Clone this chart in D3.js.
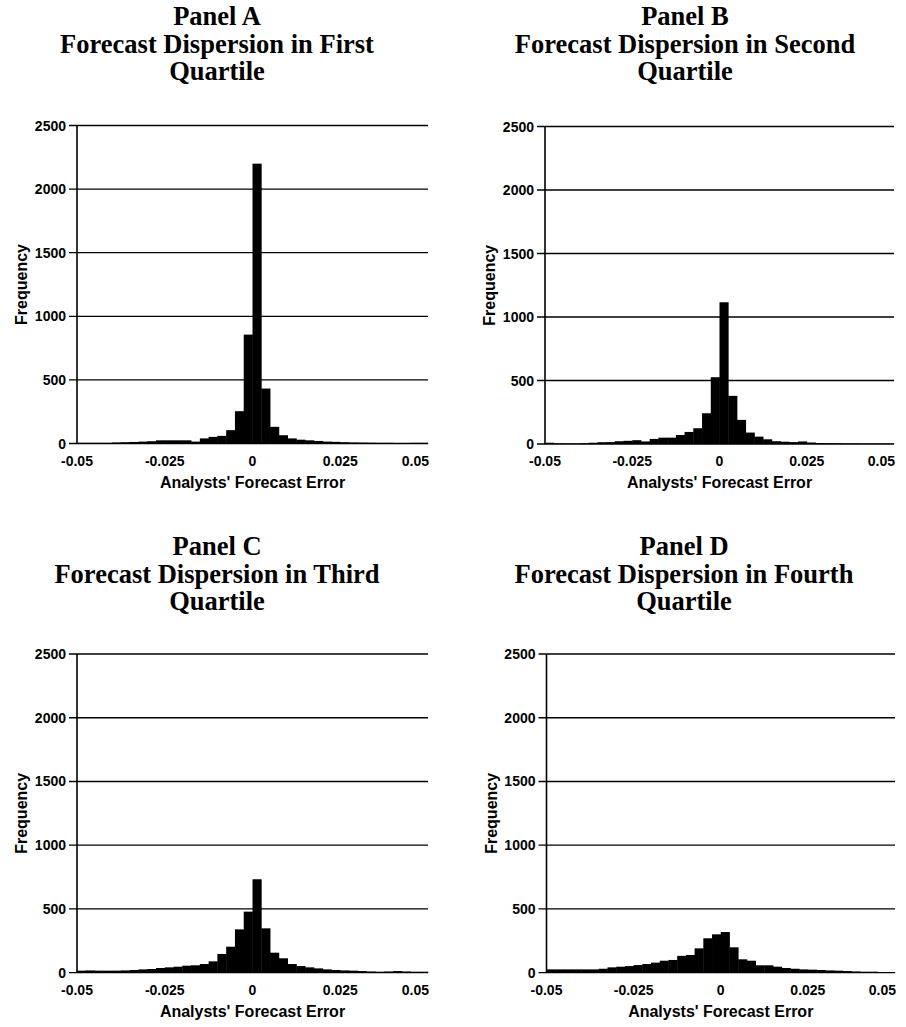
<!DOCTYPE html>
<html>
<head>
<meta charset="utf-8">
<script src="https://cdn.jsdelivr.net/npm/d3@7"></script>
<style>
	body { margin:0; background:#fff; }
	svg { display:block; }
	.ptitle { font-family:"Liberation Serif","Times New Roman",serif; font-weight:bold; font-size:26.5px; }
	.tick-lbl { font-family:"Liberation Sans",Arial,sans-serif; font-weight:bold; font-size:14px; }
	.ax-title { font-family:"Liberation Sans",Arial,sans-serif; font-weight:bold; font-size:16px; }
</style>
</head>
<body>
<svg id="chart" width="906" height="1027"></svg>
<script>
//histogram bins: 40 bins of width 0.0025 from -0.05 to 0.05
var binWidth = 0.0025;
var binStart = d3.range(40).map(function(i) { return -0.05 + i * binWidth; });

//frequencies, one per bin
var panelA = [5,5,5,5,8,10,12,15,18,25, 25,25,25,15,40,52,60,105,254,856,
              2200,432,131,65,40,30,25,20,15,13, 10,8,7,6,5,5,4,4,5,5];
var panelB = [10,5,4,4,6,10,14,15,22,25, 30,20,40,50,50,71,95,124,242,526,
              1116,379,190,90,58,37,22,18,15,20, 12,8,6,5,4,4,3,3,3,3];
var panelC = [16,18,16,16,16,18,21,26,29,37, 42,47,55,58,68,89,147,204,340,479,
              733,348,157,113,68,52,42,34,26,21, 18,16,13,10,8,10,13,10,8,8];
var panelD = [26,26,26,26,26,26,31,42,47,52, 60,68,79,94,100,132,139,191,270,301,
              319,199,105,94,58,58,47,37,31,26, 24,21,18,16,13,10,8,8,5,5];

//axes
var xTicks = [-0.05,-0.025,0,0.025,0.05];
var xTickLabels = ["-0.05","-0.025","0","0.025","0.05"];
var yTicks = [0,500,1000,1500,2000,2500];
var xLabel = "Analysts' Forecast Error";
var yLabel = "Frequency";

var titles = [
	["Panel A","Forecast Dispersion in First","Quartile"],
	["Panel B","Forecast Dispersion in Second","Quartile"],
	["Panel C","Forecast Dispersion in Third","Quartile"],
	["Panel D","Forecast Dispersion in Fourth","Quartile"]
];
var series = [panelA,panelB,panelC,panelD];

//where each panel sits on the page
var layout = [
	{left:77,  right:428, top:125.5, bottom:443.5, cx:217, ty:[25,53,80]},
	{left:545, right:894, top:126.5, bottom:444,   cx:685, ty:[25,53,80]},
	{left:77,  right:428, top:654,   bottom:972.7, cx:217, ty:[555,583,610]},
	{left:546.5,right:895,top:654,   bottom:972.7, cx:684, ty:[555,583,610]}
];

var svg = d3.select("#chart");

function drawPanel(idx)
{
	var L = layout[idx];
	var data = series[idx];
	var g = svg.append("g");

	var x = d3.scaleLinear().domain([-0.05,0.05]).range([L.left,L.right]);
	var y = d3.scaleLinear().domain([0,2500]).range([L.bottom,L.top]);

	//title
	g.selectAll("text.ptitle").data(titles[idx]).enter().append("text")
		.attr("class","ptitle")
		.attr("x",L.cx)
		.attr("y",function(d,i) { return L.ty[i]; })
		.attr("text-anchor","middle")
		.text(function(d) { return d; });

	//gridlines (with small tick to the left)
	g.selectAll("line.grid").data(yTicks).enter().append("line")
		.attr("x1",L.left - 8).attr("x2",L.right)
		.attr("y1",function(d) { return y(d); })
		.attr("y2",function(d) { return y(d); })
		.attr("stroke","#000").attr("stroke-width",1.3);

	//bars
	g.selectAll("rect").data(data).enter().append("rect")
		.attr("x",function(d,i) { return x(binStart[i]); })
		.attr("width",function(d,i) { return x(binStart[i] + binWidth) - x(binStart[i]) + 0.4; })
		.attr("y",function(d) { return y(d); })
		.attr("height",function(d) { return y(0) - y(d); })
		.attr("fill","#000");

	//vertical axis line
	g.append("line")
		.attr("x1",L.left).attr("x2",L.left)
		.attr("y1",y(0)).attr("y2",y(2500))
		.attr("stroke","#000").attr("stroke-width",1.6);

	//y tick labels
	g.selectAll("text.ylbl").data(yTicks).enter().append("text")
		.attr("class","tick-lbl")
		.attr("x",L.left - 11)
		.attr("y",function(d) { return y(d) + 5; })
		.attr("text-anchor","end")
		.text(function(d) { return d; });

	//x tick labels (last one pulled inside the plot edge)
	var last = xTicks.length - 1;
	g.selectAll("text.xlbl").data(xTicks).enter().append("text")
		.attr("class","tick-lbl")
		.attr("x",function(d,i) { return i == last ? x(d) + 1 : x(d); })
		.attr("y",y(0) + 22)
		.attr("text-anchor",function(d,i) { return i == last ? "end" : "middle"; })
		.text(function(d,i) { return xTickLabels[i]; });

	//axis titles
	g.append("text")
		.attr("class","ax-title")
		.attr("x",(L.left + L.right) / 2)
		.attr("y",y(0) + 44)
		.attr("text-anchor","middle")
		.text(xLabel);

	g.append("text")
		.attr("class","ax-title")
		.attr("transform","translate(" + (L.left - 50) + "," + ((L.top + L.bottom) / 2) + ") rotate(-90)")
		.attr("text-anchor","middle")
		.text(yLabel);
}

for (var i = 0; i < 4; i++)
	drawPanel(i);
</script>
</body>
</html>
